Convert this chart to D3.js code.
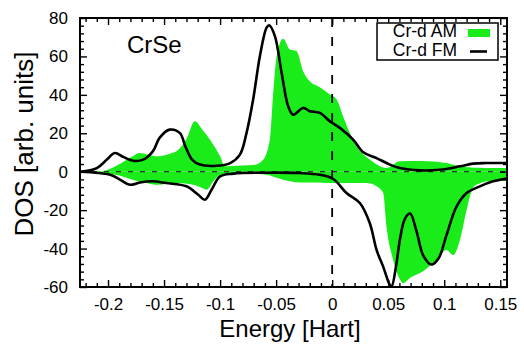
<!DOCTYPE html>
<html>
<head>
<meta charset="utf-8">
<script src="https://cdn.jsdelivr.net/npm/d3@7"></script>
<style>
  body { margin: 0; background: #fff; }
  text { font-family: "Liberation Sans", Arial, sans-serif; fill: #000; }
</style>
</head>
<body>
<svg id="svg0"></svg>
<script>
// Cr-d AM, spin up (green, above zero)
let amUpE = [-0.225,-0.205,-0.198,-0.188,-0.178,-0.172,-0.165,-0.156,-0.147,-0.138,-0.13,-0.1225,-0.116,-0.109,-0.1,-0.0957,-0.09,-0.08,-0.07,-0.062,-0.0556,-0.0526,-0.0496,-0.0437,-0.0377,-0.0318,-0.0259,-0.02,-0.011,-0.002,0.004,0.0098,0.0158,0.0218,0.0336,0.0485,0.0604,0.08,0.102,0.114,0.13,0.145,0.156];
let amUpDos = [0,0.3,1.5,4.5,8,9.7,9,8,9,11,17,26.2,22,16.7,8,2.8,3,3.2,3.5,6,16.7,41,60,69.2,63.6,62.8,52.3,47.1,44,40.2,37.6,28.8,20.2,13.2,6.3,1.9,5.4,5.6,4.5,2.8,2,1.9,1.9];
// Cr-d AM, spin down (green, below zero)
let amDnE = [-0.225,-0.205,-0.19,-0.178,-0.165,-0.156,-0.139,-0.124,-0.116,-0.112,-0.106,-0.1,-0.09,-0.07,-0.0585,-0.0437,-0.0288,-0.0139,-0.002,0.0128,0.0307,0.0396,0.0455,0.0485,0.0544,0.0604,0.063,0.07,0.078,0.093,0.102,0.108,0.114,0.12,0.126,0.132,0.14,0.148,0.156];
let amDnDos = [0,-0.5,-2,-4.2,-6,-6.8,-5.9,-6.8,-8.5,-9.4,-5,-1.6,-0.8,-1,-1.6,-4.2,-5.6,-5.6,-5.9,-5.9,-5.9,-7.6,-11,-28.5,-46,-56,-58,-55,-52.9,-45.9,-40.7,-43.3,-35.5,-19.8,-8,-6,-5,-5,-4.5];
// Cr-d FM, spin up (black line)
let fmUpE = [-0.225,-0.21,-0.201,-0.194,-0.186,-0.1775,-0.1686,-0.16,-0.154,-0.145,-0.136,-0.131,-0.125,-0.118,-0.103,-0.091,-0.0823,-0.0764,-0.0705,-0.0645,-0.0585,-0.0562,-0.0511,-0.0451,-0.0392,-0.0348,-0.0259,-0.0199,-0.011,-0.002,0.0069,0.0187,0.0277,0.0396,0.0515,0.0604,0.0782,0.096,0.114,0.1258,0.1377,0.156];
let fmUpDos = [0,1.9,6.3,9.7,7.6,5.7,6.3,10.6,17.6,21.9,20.2,13.2,6.3,3.7,3.1,4.5,8.9,20.2,37.6,60.1,75,76.2,70.6,51.5,34,29.7,33.2,31.5,30.6,26.2,22.8,16.7,10.1,7.1,3.7,1.9,0.7,1,2.8,4.2,4.5,4.5];
// Cr-d FM, spin down (black line)
let fmDnE = [-0.225,-0.198,-0.189,-0.1805,-0.1716,-0.16,-0.148,-0.13,-0.1195,-0.1136,-0.1076,-0.1,-0.088,-0.06,-0.029,-0.011,0.001,0.0128,0.0247,0.0336,0.0396,0.0455,0.0515,0.053,0.0574,0.0604,0.0649,0.0695,0.0753,0.0812,0.0885,0.095,0.102,0.111,0.12,0.1318,0.1436,0.156];
let fmDnDos = [0,-1.6,-4.2,-6.8,-5.6,-5,-5.9,-7.6,-12,-14.6,-9.4,-2.4,-1,-0.5,-0.7,-1.6,-3.8,-11.1,-16.3,-26.8,-40.7,-49.4,-59,-59.8,-47.6,-35.5,-24.5,-21.8,-31,-43.5,-48.3,-45,-33,-18.1,-11.1,-7.6,-5,-3.5];

let xTicks = [-0.2,-0.15,-0.1,-0.05,0,0.05,0.1,0.15];
let xTickLabels = ["-0.2","-0.15","-0.1","-0.05","0","0.05","0.1","0.15"];
let yTicks = [-60,-40,-20,0,20,40,60,80];
let yTickLabels = ["-60","-40","-20","0","20","40","60","80"];
let legendLabels = ["Cr-d AM","Cr-d FM"];

let width = 524, height = 345;
let margin = {top: 18, right: 17, bottom: 58, left: 80};
let green = "#19ec19";

let svg = d3.select('#svg0').attr('width', width).attr('height', height);

let xScale = d3.scaleLinear().domain([-0.225, 0.156]).range([margin.left, width - margin.right]);
let yScale = d3.scaleLinear().domain([-60, 80]).range([height - margin.bottom, margin.top]);

let zip = (es, ds) => es.map((e, i) => ({e: e, d: ds[i]}));

svg.append('clipPath').attr('id', 'plotClip').append('rect')
    .attr('x', margin.left).attr('y', margin.top)
    .attr('width', xScale.range()[1] - margin.left).attr('height', yScale.range()[0] - margin.top);

let plot = svg.append('g').attr('clip-path', 'url(#plotClip)');

// green AM areas
let area = d3.area().x(d => xScale(d.e)).y0(yScale(0)).y1(d => yScale(d.d)).curve(d3.curveMonotoneX);
plot.append('path').datum(zip(amUpE, amUpDos)).attr('d', area).style('fill', green);
plot.append('path').datum(zip(amDnE, amDnDos)).attr('d', area).style('fill', green);

// zero lines
plot.append('line').attr('x1', xScale.range()[0]).attr('x2', xScale.range()[1])
    .attr('y1', yScale(0)).attr('y2', yScale(0))
    .style('stroke', '#333').style('stroke-width', 1.2).style('stroke-dasharray', '5,7');
plot.append('line').attr('x1', xScale(0)).attr('x2', xScale(0))
    .attr('y1', yScale.range()[1]).attr('y2', yScale.range()[0])
    .style('stroke', '#000').style('stroke-width', 1.8).style('stroke-dasharray', '9,10');

// FM lines
let line = d3.line().x(d => xScale(d.e)).y(d => yScale(d.d)).curve(d3.curveCatmullRom.alpha(0.5));
plot.append('path').datum(zip(fmUpE, fmUpDos)).attr('d', line)
    .style('fill', 'none').style('stroke', '#000').style('stroke-width', 2.6).style('stroke-linejoin', 'round');
plot.append('path').datum(zip(fmDnE, fmDnDos)).attr('d', line)
    .style('fill', 'none').style('stroke', '#000').style('stroke-width', 2.6).style('stroke-linejoin', 'round');

// axes: ticks point inward on all four sides
let xMinor = d3.range(-22, 16).map(i => i / 100).filter(v => Math.abs(Math.round(v * 100)) % 5 !== 0);
let yMinor = d3.range(-60, 81, 4).filter(v => v % 20 !== 0);
let x0 = xScale.range()[0], x1 = xScale.range()[1], y0 = yScale.range()[0], y1 = yScale.range()[1];

let addAxis = (axis, tx, ty) => {
    let g = svg.append('g').attr('transform', 'translate(' + tx + ',' + ty + ')').call(axis);
    g.select('.domain').remove();
    g.selectAll('line').style('stroke', '#000').style('stroke-width', 1.4);
    g.selectAll('text').style('font-size', '17px').style('font-family', '"Liberation Sans", Arial, sans-serif').style('fill', '#000');
    return g;
};

addAxis(d3.axisBottom(xScale).tickValues(xTicks).tickSize(-7).tickPadding(11).tickFormat((d, i) => xTickLabels[i]), 0, y0);
addAxis(d3.axisBottom(xScale).tickValues(xMinor).tickSize(-4).tickFormat(''), 0, y0);
addAxis(d3.axisTop(xScale).tickValues(xTicks).tickSize(-7).tickFormat(''), 0, y1);
addAxis(d3.axisTop(xScale).tickValues(xMinor).tickSize(-4).tickFormat(''), 0, y1);
addAxis(d3.axisLeft(yScale).tickValues(yTicks).tickSize(-7).tickPadding(12).tickFormat((d, i) => yTickLabels[i]), x0, 0);
addAxis(d3.axisLeft(yScale).tickValues(yMinor).tickSize(-4).tickFormat(''), x0, 0);
addAxis(d3.axisRight(yScale).tickValues(yTicks).tickSize(-7).tickFormat(''), x1, 0);
addAxis(d3.axisRight(yScale).tickValues(yMinor).tickSize(-4).tickFormat(''), x1, 0);

// frame
svg.append('rect').attr('x', x0).attr('y', y1).attr('width', x1 - x0).attr('height', y0 - y1)
    .style('fill', 'none').style('stroke', '#000').style('stroke-width', 2);

// legend
svg.append('rect').attr('x', 377).attr('y', 23).attr('width', 121).attr('height', 37)
    .style('fill', '#fff').style('stroke', '#000').style('stroke-width', 1.5);
svg.selectAll('.legend').data(legendLabels).enter().append('text')
    .attr('class', 'legend')
    .attr('x', 457).attr('y', (d, i) => 37 + i * 18.5)
    .style('font-size', '17.5px').style('text-anchor', 'end')
    .text(d => d);
svg.append('rect').attr('x', 468).attr('y', 29).attr('width', 22).attr('height', 8).style('fill', green);
svg.append('line').attr('x1', 470).attr('x2', 487).attr('y1', 51.5).attr('y2', 51.5)
    .style('stroke', '#000').style('stroke-width', 2.6);

// labels
svg.append('text').attr('x', 127).attr('y', 53).text('CrSe').style('font-size', '24px');
svg.append('text').attr('x', 290).attr('y', 337).text('Energy [Hart]')
    .style('font-size', '24px').style('text-anchor', 'middle');
svg.append('text').attr('transform', 'translate(33,144) rotate(-90)').text('DOS [arb. units]')
    .style('font-size', '26px').style('text-anchor', 'middle');
</script>
</body>
</html>
